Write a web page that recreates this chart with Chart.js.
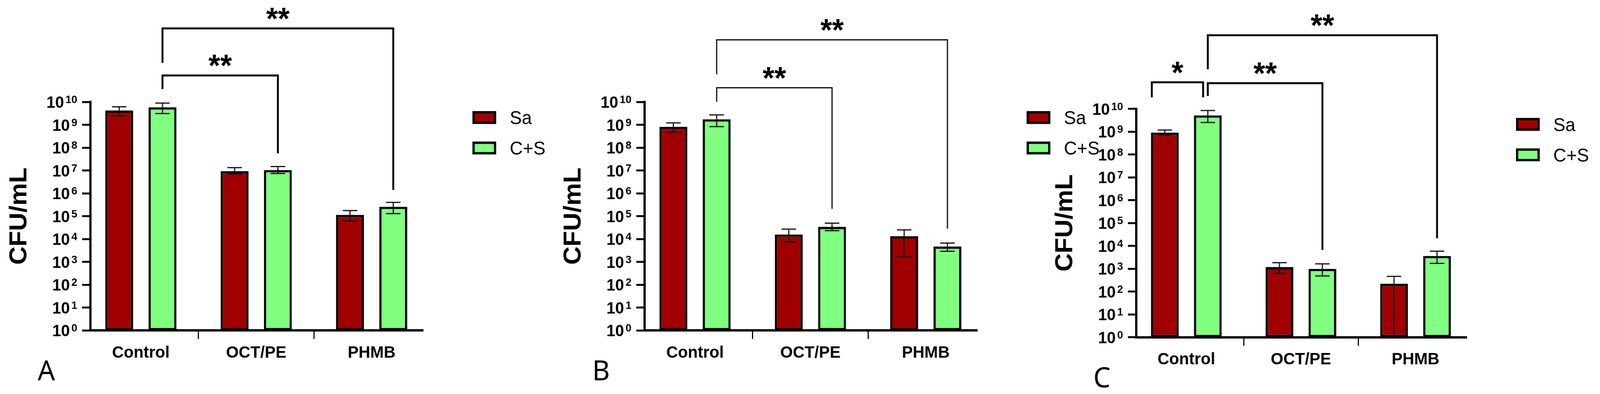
<!DOCTYPE html>
<html>
<head>
<meta charset="utf-8">
<script src="https://cdn.jsdelivr.net/npm/chart.js@4.4.1/dist/chart.umd.min.js"></script>
<style>
  html, body { margin: 0; padding: 0; background: #fff; overflow: hidden; }
  #wrap { position: relative; width: 100vw; height: 100vh; background: #fff; }
  #wrap canvas { position: absolute; left: 0; top: 0; width: 100%; height: 100%; }
</style>
</head>
<body>
<div id="wrap">
  <canvas id="panelA" width="4247" height="1009" style="width:100%;height:100%"></canvas>
  <canvas id="panelB" width="4247" height="1009" style="width:100%;height:100%"></canvas>
  <canvas id="panelC" width="4247" height="1009" style="width:100%;height:100%"></canvas>
</div>
<script>
// ---------- DATA ----------
const categories = ["Control", "OCT/PE", "PHMB"];
const seriesNames = ["Sa", "C+S"];
const seriesColors = ["#a00000", "#80ff80"];
const yTickExponents = [0, 1, 2, 3, 4, 5, 6, 7, 8, 9, 10];

// panel A
const saA = [4.2e9, 9.3e6, 1.14e5];
const saA_hi = [6.1e9, 1.33e7, 1.75e5];
const saA_lo = [2.4e9, 6.9e6, 6.2e4];
const csA = [5.8e9, 1.04e7, 2.56e5];
const csA_hi = [8.9e9, 1.48e7, 4.0e5];
const csA_lo = [3.1e9, 7.4e6, 1.29e5];

// panel B
const saB = [8.1e8, 1.58e4, 1.32e4];
const saB_hi = [1.2e9, 2.7e4, 2.5e4];
const saB_lo = [4.7e8, 7.4e3, 1.66e3];
const csB = [1.73e9, 3.4e4, 4.7e3];
const csB_hi = [2.7e9, 4.9e4, 6.6e3];
const csB_lo = [8.3e8, 2.3e4, 2.9e3];

// panel C (lower error of PHMB Sa runs below the axis)
const saC = [9.1e8, 1.17e3, 2.2e2];
const saC_hi = [1.17e9, 1.83e3, 4.6e2];
const saC_lo = [7.2e8, 6.2e2, null];
const csC = [5.1e9, 9.8e2, 3.6e3];
const csC_hi = [8.4e9, 1.62e3, 5.8e3];
const csC_lo = [2.5e9, 4.8e2, 1.7e3];

// significance brackets: [category, series] ends, levels as log10 exponents
const bracketsA = [
  { a: [0, 1], b: [1, 1], top: 11.16, legA: 10.56, legB: 7.75, text: "**" },
  { a: [0, 1], b: [2, 1], top: 13.22, legA: 11.71, legB: 6.15, text: "**" }
];
const bracketsB = [
  { a: [0, 1], b: [1, 1], top: 10.62, legA: 10.01, legB: 5.32, text: "**" },
  { a: [0, 1], b: [2, 1], top: 12.72, legA: 11.21, legB: 4.45, text: "**" }
];
const bracketsC = [
  { a: [0, 0], b: [0, 1], top: 11.16, legA: 10.50, legB: 10.50, text: "*", dxA: -0.47, dxB: -0.17 },
  { a: [0, 1], b: [1, 1], top: 11.12, legA: 10.56, legB: 3.82, text: "**" },
  { a: [0, 1], b: [2, 1], top: 13.22, legA: 11.73, legB: 4.33, text: "**" }
];

// ---------- LAYOUT ----------
const W = 4247, H = 1009;
const Y_W = 240, X_H = 100;
const FONT = '"Liberation Sans", Arial, sans-serif';

const panels = [
  { id: "panelA", letter: "A", left: 240, right: 1123, top: 261, bottom: 846, letterDx: -140, bw: 5,
    values: [saA, csA], hi: [saA_hi, csA_hi], lo: [saA_lo, csA_lo], brackets: bracketsA },
  { id: "panelB", letter: "B", left: 1711, right: 2594, top: 261, bottom: 846, letterDx: -139, bw: 3,
    values: [saB, csB], hi: [saB_hi, csB_hi], lo: [saB_lo, csB_lo], brackets: bracketsB },
  { id: "panelC", letter: "C", left: 3016, right: 3893, top: 278.5, bottom: 863.5, letterDx: -114, bw: 5,
    values: [saC, csC], hi: [saC_hi, csC_hi], lo: [saC_lo, csC_lo], brackets: bracketsC }
];

function decorPlugin(p) {
  return {
    id: "decor",
    afterDatasetsDraw(chart) {
      const ctx = chart.ctx;
      const ys = chart.scales.y;
      const area = chart.chartArea;
      ctx.save();
      // error bars
      ctx.strokeStyle = "#111";
      ctx.lineWidth = 3;
      p.values.forEach((vals, d) => {
        const meta = chart.getDatasetMeta(d);
        meta.data.forEach((bar, i) => {
          const cap = bar.width * 0.26;
          const yHi = ys.getPixelForValue(p.hi[d][i]);
          const lo = p.lo[d][i];
          const yLo = lo == null ? area.bottom : ys.getPixelForValue(lo);
          ctx.beginPath();
          ctx.moveTo(bar.x, yHi); ctx.lineTo(bar.x, yLo);
          ctx.moveTo(bar.x - cap, yHi); ctx.lineTo(bar.x + cap, yHi);
          if (lo != null) { ctx.moveTo(bar.x - cap, yLo); ctx.lineTo(bar.x + cap, yLo); }
          ctx.stroke();
        });
      });
      // brackets
      ctx.strokeStyle = "#000";
      ctx.fillStyle = "#000";
      ctx.lineWidth = p.bw;
      ctx.lineJoin = "miter";
      ctx.font = "bold 80px " + FONT;
      ctx.textAlign = "center";
      p.brackets.forEach(br => {
        const barA = chart.getDatasetMeta(br.a[1]).data[br.a[0]];
        const barB = chart.getDatasetMeta(br.b[1]).data[br.b[0]];
        const xa = barA.x + (br.dxA || 0) * barA.width;
        const xb = barB.x + (br.dxB || 0) * barB.width;
        const yt = ys.getPixelForValue(Math.pow(10, br.top));
        const ya = ys.getPixelForValue(Math.pow(10, br.legA));
        const yb = ys.getPixelForValue(Math.pow(10, br.legB));
        ctx.beginPath();
        ctx.moveTo(xa, ya); ctx.lineTo(xa, yt); ctx.lineTo(xb, yt); ctx.lineTo(xb, yb);
        ctx.stroke();
        const m = ctx.measureText(br.text);
        const cy = yt - 38;
        ctx.fillText(br.text, (xa + xb) / 2, cy + (m.actualBoundingBoxAscent - m.actualBoundingBoxDescent) / 2);
      });
      ctx.restore();
    },
    afterDraw(chart) {
      const ctx = chart.ctx;
      const ys = chart.scales.y;
      const area = chart.chartArea;
      ctx.save();
      ctx.fillStyle = "#000";
      // y tick labels 10^n
      ctx.textAlign = "right";
      ctx.textBaseline = "alphabetic";
      yTickExponents.forEach(e => {
        const py = ys.getPixelForValue(Math.pow(10, e));
        const right = area.left - 35;
        ctx.font = "bold 28px " + FONT;
        const sup = String(e);
        const supW = ctx.measureText(sup).width;
        ctx.fillText(sup, right, py + 3);
        ctx.font = "bold 42px " + FONT;
        ctx.fillText("10", right - supW - 4, py + 15);
      });
      // y axis title
      ctx.save();
      ctx.translate(area.left - 188, (area.top + area.bottom) / 2);
      ctx.rotate(-Math.PI / 2);
      ctx.textAlign = "center";
      ctx.textBaseline = "middle";
      ctx.font = "bold 65px " + FONT;
      ctx.fillText("CFU/mL", 0, 0);
      ctx.restore();
      // legend
      chart.data.datasets.forEach((ds, i) => {
        const cy = area.top + 40 + i * 78;
        const bx = area.right + 131;
        ctx.fillStyle = "#000";
        ctx.fillRect(bx, cy - 16.5, 63, 33);
        ctx.fillStyle = ds.backgroundColor;
        ctx.fillRect(bx + 6, cy - 10.5, 51, 21);
        ctx.fillStyle = "#000";
        ctx.textAlign = "left";
        ctx.font = "48px " + FONT;
        ctx.fillText(ds.label, bx + 99, cy + 17);
      });
      // panel letter
      ctx.textAlign = "left";
      ctx.font = '72px "Noto Sans", "Open Sans", sans-serif';
      ctx.fillText(p.letter, area.left + p.letterDx, area.bottom + 128);
      ctx.restore();
    }
  };
}

Chart.defaults.font.family = FONT;
Chart.defaults.color = "#000";

panels.forEach(p => {
  const canvas = document.getElementById(p.id);
  const datasets = p.values.map((vals, d) => ({
    label: seriesNames[d],
    data: vals.map((v, i) => ({ x: i, y: v })),
    backgroundColor: seriesColors[d],
    borderColor: "#000",
    borderWidth: 6,
    borderSkipped: false,
    categoryPercentage: 0.75,
    barPercentage: 0.645
  }));

  new Chart(canvas, {
    type: "bar",
    data: { datasets: datasets },
    options: {
      responsive: false,
      animation: false,
      devicePixelRatio: 1,
      layout: {
        padding: {
          left: p.left - Y_W,
          right: W - p.right,
          top: p.top,
          bottom: H - p.bottom - X_H
        }
      },
      plugins: { legend: { display: false }, tooltip: { enabled: false } },
      scales: {
        x: {
          type: "linear",
          min: -0.437,
          max: 2.446,
          offset: false,
          afterBuildTicks: s => { s.ticks = categories.map((c, i) => ({ value: i })); },
          afterFit: s => { s.height = X_H; s.paddingLeft = 0; s.paddingRight = 0; },
          grid: { drawOnChartArea: false, drawTicks: true, tickLength: 22, tickWidth: 3, tickColor: "#000" },
          border: { display: true, color: "#000", width: 6 },
          ticks: {
            autoSkip: false,
            maxRotation: 0,
            padding: 10,
            color: "#000",
            font: { size: 43, weight: "bold" },
            callback: v => categories[v] !== undefined ? categories[v] : ""
          }
        },
        y: {
          type: "logarithmic",
          min: 1,
          max: 1e10,
          afterBuildTicks: s => { s.ticks = yTickExponents.map(e => ({ value: Math.pow(10, e) })); },
          afterFit: s => { s.width = Y_W; s.paddingTop = 0; s.paddingBottom = 0; },
          grid: { drawOnChartArea: false, drawTicks: true, tickLength: 22, tickWidth: 5, tickColor: "#000" },
          border: { display: true, color: "#000", width: 6 },
          ticks: { display: false }
        }
      }
    },
    plugins: [decorPlugin(p)]
  });
});
</script>
</body>
</html>
